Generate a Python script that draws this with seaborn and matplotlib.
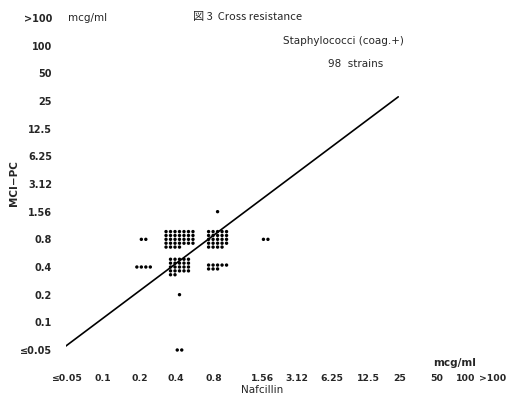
import numpy as np
import pandas as pd
import matplotlib.pyplot as plt
import seaborn as sns

# concentration steps (mcg/ml) used on both axes
conc_labels = ["≤0.05", "0.1", "0.2", "0.4", "0.8", "1.56", "3.12",
               "6.25", "12.5", "25", "50", "100", ">100"]

# strains per (Nafcillin, MCI-PC) cell, 98 in total
cell_nafcillin = ["0.2", "0.2", "0.4", "0.4", "0.4", "0.4", "0.8", "0.8", "0.8", "1.56"]
cell_mcipc = ["0.8", "0.4", "0.8", "0.4", "0.2", "≤0.05", "1.56", "0.8", "0.4", "0.8"]
cell_counts = [2, 4, 32, 22, 1, 2, 1, 24, 8, 2]

# regression line, in axis step units
line_x = [-0.1, 9.25]
line_y = [0.05, 9.15]

# layout: the printed x axis is not evenly spaced
x_slot = [0, 1.03, 2.06, 3.06, 4.12, 5.46, 6.43, 7.41, 8.41, 9.30, 10.33, 11.12, 11.88]
cell_cols = [2, 4, 7, 5, 1, 2, 1, 5, 5, 2]
dx, dy = 0.125, 0.14
shift = 0.1

W, H = 509, 398

sns.set_style("white")
plt.rcParams['font.family'] = ['DejaVu Sans']

# build one row per strain, laid out as a small grid in its cell
rows = []
for nx, ny, n, c in zip(cell_nafcillin, cell_mcipc, cell_counts, cell_cols):
    cx = x_slot[conc_labels.index(nx)] + shift
    cy = conc_labels.index(ny)
    nrows = int(np.ceil(n / c))
    for k in range(n):
        r, col = divmod(k, c)
        rows.append({"x": cx + (col - (c - 1) / 2) * dx,
                     "y": cy + ((nrows - 1) / 2 - r) * dy})
df = pd.DataFrame(rows)

fig = plt.figure(figsize=(W / 100, H / 100), dpi=100)
ax = fig.add_axes([66 / W, (H - 350) / H, (497 - 66) / W, (350 - 18) / H])

sns.scatterplot(data=df, x="x", y="y", ax=ax, color="black", s=6,
                marker="o", edgecolor="none", clip_on=False)
sns.lineplot(x=line_x, y=line_y, ax=ax, color="black", linewidth=1.2)

ax.set_xlim(0, 12)
ax.set_ylim(0, 12)
ax.set_xticks(x_slot)
ax.set_xticklabels(conc_labels, fontsize=6.7, fontweight="bold")
ax.set_yticks(range(len(conc_labels)))
ax.set_yticklabels(conc_labels, fontsize=7, fontweight="bold")
ax.tick_params(axis="x", length=0, pad=17)
ax.tick_params(axis="y", length=0, pad=10)
ax.set_xlabel("")
ax.set_ylabel("")
sns.despine(ax=ax, left=True, bottom=True)


def px(x, y):
    return x / W, 1 - y / H


fig.text(*px(68, 18), "mcg/ml", fontsize=7.5, va="center", ha="left")
fig.text(*px(193, 17), "図 3  Cross resistance", fontsize=8, va="center", ha="left",
         family=['Noto Sans CJK JP', 'DejaVu Sans'])
fig.text(*px(283, 41), "Staphylococci (coag.+)", fontsize=7.5, va="center", ha="left")
fig.text(*px(328, 64), "98  strains", fontsize=7.5, va="center", ha="left")
fig.text(*px(433, 363), "mcg/ml", fontsize=7.5, va="center", ha="left", fontweight="bold")
fig.text(*px(262, 390), "Nafcillin", fontsize=7.5, va="center", ha="center")
fig.text(*px(14, 183), "MCI−PC", fontsize=7.5, va="center", ha="center",
         rotation=90, fontweight="bold")

fig.savefig("out.png", dpi=100)
